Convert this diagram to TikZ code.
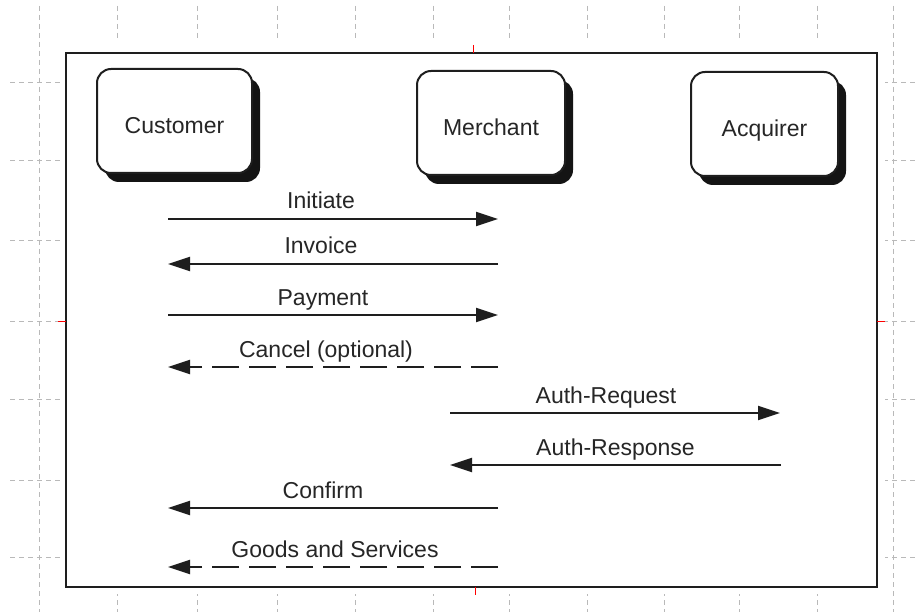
\documentclass[tikz,border=0pt]{standalone}
\usepackage{fontspec}
\setmainfont{Liberation Sans}
\usetikzlibrary{arrows.meta,shadows}
\definecolor{ink}{HTML}{1E1E1E}
\definecolor{txt}{HTML}{262626}
\begin{document}
\begin{tikzpicture}[x=1pt,y=-1pt,
  gridline/.style={gray!55,line width=0.8pt,dash pattern=on 5pt off 4pt},
  frame/.style={ink,line width=2pt},
  redtick/.style={red,line width=0.9pt},
  actor/.style={draw=ink,line width=2pt,fill=white,rounded corners=14pt,
    minimum height=104pt,text=txt,font=\fontsize{23}{26}\selectfont,
    text height=26pt,text depth=1pt,
    drop shadow={shadow xshift=8pt,shadow yshift=-9pt,opacity=1,fill=black!92}},
  msg/.style={ink,line width=2pt,-{Triangle[length=22pt,width=14pt]}},
  dmsg/.style={msg,dash pattern=on 27pt off 10pt},
  lbl/.style={text=txt,font=\fontsize{23}{26}\selectfont,anchor=base,inner sep=0pt,yshift=10pt}]
\useasboundingbox (0,0) rectangle (920,612);
\fill[white] (0,0) rectangle (920,612);
% background grid
\foreach \gx in {39,117,197,277,355,433,509,587,664,739,817,893}
  \draw[gridline] (\gx,6) -- (\gx,612);
\foreach \gy in {82,160,240,321,399,480,557}
  \draw[gridline] (10,\gy) -- (918,\gy);
\fill[white] (60,38) rectangle (885,594);
% frame
\draw[frame] (66,53) rectangle (877,587);
\draw[redtick] (473,45) -- (473,53);
\draw[redtick] (58,321) -- (66,321);
\draw[redtick] (877,321) -- (885,321);
\draw[redtick] (475,587) -- (475,595);
% actors
\node[actor,minimum width=155pt] (cust) at (174.5,121) {Customer};
\node[actor,minimum width=148pt] (merch) at (491,123) {Merchant};
\node[actor,minimum width=147pt] (acq) at (764.5,124) {Acquirer};
% message end points
\coordinate (iniA) at (168,219);  \coordinate (iniB) at (498,219);
\coordinate (invA) at (498,264);  \coordinate (invB) at (168,264);
\coordinate (payA) at (168,315);  \coordinate (payB) at (498,315);
\coordinate (canA) at (498,367);  \coordinate (canB) at (168,367);
\coordinate (arqA) at (450,413);  \coordinate (arqB) at (780,413);
\coordinate (arsA) at (781,465);  \coordinate (arsB) at (450,465);
\coordinate (conA) at (498,508);  \coordinate (conB) at (168,508);
\coordinate (gooA) at (498,567);  \coordinate (gooB) at (168,567);
% messages
\draw[msg]  (iniA) -- node[lbl,xshift=-12pt] {Initiate} (iniB);
\draw[msg]  (invA) -- node[lbl,xshift=-12pt] {Invoice} (invB);
\draw[msg]  (payA) -- node[lbl,xshift=-10pt] {Payment} (payB);
\draw[dmsg] (canA) -- node[lbl,xshift=-7pt] {Cancel (optional)} (canB);
\draw[msg]  (arqA) -- node[lbl,xshift=-9pt] {Auth-Request} (arqB);
\draw[msg]  (arsA) -- node[lbl,xshift=0pt] {Auth-Response} (arsB);
\draw[msg]  (conA) -- node[lbl,xshift=-10pt] {Confirm} (conB);
\draw[dmsg] (gooA) -- node[lbl,xshift=2pt] {Goods and Services} (gooB);
\end{tikzpicture}
\end{document}
